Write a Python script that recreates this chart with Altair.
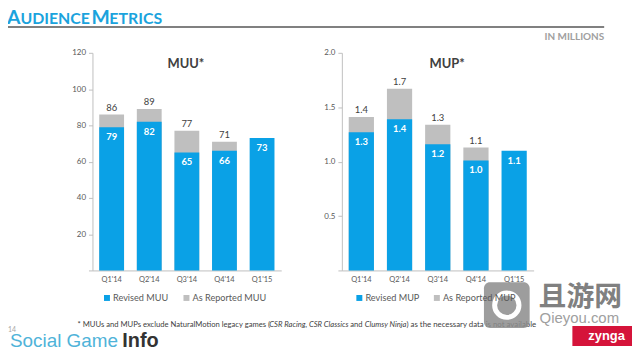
import altair as alt
import pandas as pd

# ---------------- data ----------------
quarters = ["Q1'14", "Q2'14", "Q3'14", "Q4'14", "Q1'15"]
muu_revised = [79, 82, 65, 66, 73]
muu_reported = [86, 89, 77, 71, None]
mup_revised = [1.27, 1.39, 1.16, 1.01, 1.10]
mup_reported = [1.41, 1.67, 1.34, 1.13, None]
muu_ticks = [0, 20, 40, 60, 80, 100, 120]
mup_ticks = [0, 0.5, 1.0, 1.5, 2.0]
muu_series = ["Revised MUU", "As Reported MUU"]
mup_series = ["Revised MUP", "As Reported MUP"]

BLUE = "#0aa1e6"
GRAY = "#bfbfbf"
TITLE_BLUE = "#1ba3dd"
W, H = 628, 348
FONT = "Lato"


def px(x):
    return x - 8


def py(y):
    return y - 8


def panel(revised, reported, names, y_max, ticks, fmt, x0, x1, legend_x):
    rev_name, rep_name = names
    rows = []
    for q, v in zip(quarters, reported):
        if v is not None:
            rows.append({"quarter": q, "series": rep_name, "value": v})
    for q, v in zip(quarters, revised):
        rows.append({"quarter": q, "series": rev_name, "value": v})
    df = pd.DataFrame(rows)

    xs = alt.X(
        "quarter:N", sort=quarters,
        scale=alt.Scale(range=[px(x0), px(x1)], paddingInner=0.34, paddingOuter=0.18),
        axis=alt.Axis(title=None, orient="bottom", offset=py(271) - H, labelAngle=0,
                      labelFontSize=7.5, labelColor="#595959", labelPadding=5, labelFont=FONT,
                      ticks=False, domainColor="#bfbfbf"),
    )
    ys = alt.Y(
        "value:Q", stack=None,
        scale=alt.Scale(domain=[0, y_max], range=[py(271), py(52)], nice=False, zero=True),
        axis=alt.Axis(title=None, orient="left", offset=-px(x0), values=ticks,
                      labelExpr=f"datum.value == 0 ? '' : format(datum.value, '{fmt}')",
                      grid=False, tickSize=4, tickColor="#bfbfbf", domainColor="#bfbfbf",
                      labelFontSize=8, labelColor="#595959", labelPadding=3, labelFont=FONT),
    )
    base = alt.Chart(df)
    bars = base.mark_bar().encode(
        x=xs, y=ys,
        color=alt.Color(
            "series:N",
            scale=alt.Scale(domain=[rev_name, rep_name], range=[BLUE, GRAY]),
            legend=alt.Legend(title=None, orient="none", legendX=px(legend_x), legendY=py(294),
                              direction="horizontal", symbolType="square", symbolSize=36,
                              symbolStrokeWidth=0, labelFontSize=9.2, labelFont=FONT,
                              labelColor="#595959", columnPadding=13, labelOffset=1.5, padding=0),
        ),
    )
    top = base.transform_filter(alt.datum.series == rep_name).mark_text(
        dy=-7, fontSize=9.5, color="#404040", font=FONT, baseline="middle"
    ).encode(x=xs, y=ys, text=alt.Text("value:Q", format=fmt))
    inside = base.transform_filter(alt.datum.series == rev_name).mark_text(
        dy=10, fontSize=9.5, color="white", fontWeight="bold", font=FONT, baseline="middle"
    ).encode(x=xs, y=ys, text=alt.Text("value:Q", format=fmt))
    return alt.layer(bars, top, inside)


left = panel(muu_revised, muu_reported, muu_series, 120, muu_ticks, "d", 93, 283, 103)
right = panel(mup_revised, mup_reported, mup_series, 2.0, mup_ticks, ".1f", 344, 537, 357)


def txt(s, x, y, size, color, weight="normal", align="left", baseline="middle",
        font=FONT, style="normal", opacity=1.0):
    return alt.Chart(pd.DataFrame({"t": [s]})).mark_text(
        align=align, baseline=baseline, fontSize=size, color=color, fontWeight=weight,
        font=font, fontStyle=style, opacity=opacity
    ).encode(text="t:N", x=alt.value(px(x)), y=alt.value(py(y)))


one = pd.DataFrame({"k": [0]})

deco = [
    txt("A", 7, 22.5, 19.5, TITLE_BLUE, "bold", baseline="alphabetic"),
    txt("UDIENCE", 20.5, 22.5, 16, TITLE_BLUE, "bold", baseline="alphabetic"),
    txt("M", 92, 22.5, 19.5, TITLE_BLUE, "bold", baseline="alphabetic"),
    txt("ETRICS", 110, 22.5, 16, TITLE_BLUE, "bold", baseline="alphabetic"),
    alt.Chart(one).mark_rule(color="#808080", strokeWidth=2).encode(
        x=alt.value(px(7)), x2=alt.value(px(608)), y=alt.value(py(26))),
    txt("IN MILLIONS", 608, 36, 10, "#a0a0a0", "bold", align="right"),
    txt("MUU*", 187, 63, 13, "#404040", "bold", align="center"),
    txt("MUP*", 450, 63, 13, "#404040", "bold", align="center"),
    txt("* MUUs and MUPs exclude NaturalMotion legacy games (", 78, 326, 7.7, "#404040"),
    txt("CSR Racing, CSR Classics", 271, 326, 7.7, "#404040", style="italic"),
    txt("and", 352.5, 326, 7.7, "#404040"),
    txt("Clumsy Ninja", 367, 326, 7.7, "#404040", style="italic"),
    txt(") as the necessary data is not available", 409, 326, 7.9, "#404040"),
    txt("14", 8, 331, 7, "#a6a6a6"),
    txt("Social Game", 10, 348, 19, "#4fb3d9", baseline="alphabetic", font="Liberation Sans"),
    txt("Info", 123, 348, 20, "#333333", "bold", baseline="alphabetic", font="Liberation Sans"),
    # watermarks
    alt.Chart(one).mark_rect(color="#8c8c8c", opacity=0.85, cornerRadius=6).encode(
        x=alt.value(px(487)), x2=alt.value(px(533)), y=alt.value(py(283)), y2=alt.value(py(329))),
    alt.Chart(one).mark_point(shape="circle", filled=False, color="white", strokeWidth=5,
                              size=600, opacity=1).encode(
        x=alt.value(px(510)), y=alt.value(py(306))),
    txt("且游网", 542, 299, 28, "#808080", "bold", font="Noto Sans CJK SC"),
    txt("Qieyou.com", 543, 319, 15, "#a0a0a0", font="Liberation Sans"),
    alt.Chart(one).mark_rect(color="#d5143a").encode(
        x=alt.value(px(576)), x2=alt.value(px(636)), y=alt.value(py(327)), y2=alt.value(py(347))),
    txt("zynga", 592, 337, 13, "white", "bold", font="Liberation Sans"),
]

chart = alt.layer(left, right, *deco).resolve_scale(
    x="independent", y="independent", color="independent"
).properties(
    width=W, height=H, autosize=alt.AutoSizeParams(type="none"), padding=0
).configure_view(stroke=None)

chart.save("out.html", embed_options={"renderer": "svg", "actions": False})
